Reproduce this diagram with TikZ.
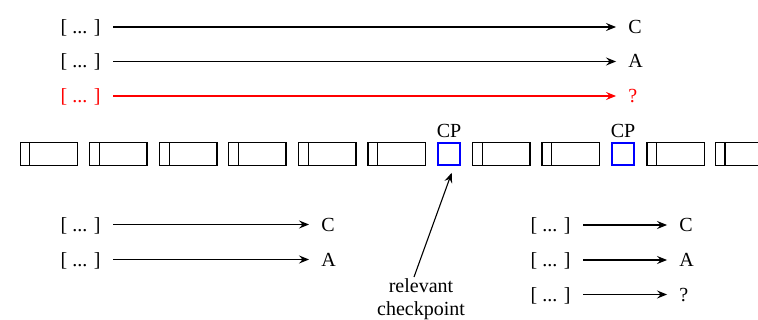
\documentclass[tikz,border=0pt]{standalone}
\usepackage{fontspec}
\setmainfont{Liberation Serif}
\usetikzlibrary{arrows.meta}
\begin{document}
\begin{tikzpicture}[x=0.5pt,y=-0.5pt,
  font=\fontsize{10}{12.5}\selectfont,
  lbl/.style={inner xsep=6pt, inner ysep=0pt, text height=7pt, text depth=0.5pt},
  hot/.style={red},
  arr/.style={-{Stealth[length=5pt,width=4pt,inset=1.8pt]}, line width=0.55pt},
  slot/.style={draw, line width=0.55pt, minimum width=28.7pt, minimum height=11.2pt, inner sep=0pt, outer sep=0pt},
  slotline/.style={line width=0.55pt},
  cpbox/.style={draw=blue, line width=1.1pt, minimum width=11.15pt, minimum height=10.7pt, inner sep=0pt},
  cplbl/.style={inner sep=0pt, text height=7pt, text depth=0.5pt}]
\useasboundingbox (0,0) rectangle (758,320);

% top rows
\node[lbl, anchor=east] (tl1) at (113,27) {[ ... ]};
\node[lbl, anchor=west] (tr1) at (616,27) {C};
\draw[arr] (tl1) -- (tr1);
\node[lbl, anchor=east] (tl2) at (113,61.5) {[ ... ]};
\node[lbl, anchor=west] (tr2) at (616,61.5) {A};
\draw[arr] (tl2) -- (tr2);
\node[lbl, hot, anchor=east] (tl3) at (113,96) {[ ... ]};
\node[lbl, hot, anchor=west] (tr3) at (616,96) {?};
\draw[arr, hot] (tl3) -- (tr3);

% slots
\begin{scope}
\clip (0,0) rectangle (758,320);
\foreach \n/\x in {1/49,2/118.3,3/188.3,4/257.3,5/327.3,6/396.7,7/501.3,8/570.7,9/675.7,10/744.2} {
  \node[slot] (s\n) at (\x,154) {};
  \draw[slotline] ([xshift=4.75pt]s\n.north west) -- ([xshift=4.75pt]s\n.south west);
}
\end{scope}

% checkpoints
\node[cpbox] (cp1) at (449,154) {};
\node[cpbox] (cp2) at (623,154) {};
\node[cplbl] (cpl1) at (449,131) {CP};
\node[cplbl] (cpl2) at (623,131) {CP};

% bottom left rows
\node[lbl, anchor=east] (bl1) at (113,224.5) {[ ... ]};
\node[lbl, anchor=west] (br1) at (309,224.5) {C};
\draw[arr] (bl1) -- (br1);
\node[lbl, anchor=east] (bl2) at (113,259.5) {[ ... ]};
\node[lbl, anchor=west] (br2) at (309,259.5) {A};
\draw[arr] (bl2) -- (br2);

% bottom right rows
\node[lbl, anchor=east] (rl1) at (583,225) {[ ... ]};
\node[lbl, anchor=west] (rr1) at (667,225) {C};
\draw[arr] (rl1) -- (rr1);
\node[lbl, anchor=east] (rl2) at (583,260) {[ ... ]};
\node[lbl, anchor=west] (rr2) at (667,260) {A};
\draw[arr] (rl2) -- (rr2);
\node[lbl, anchor=east] (rl3) at (583,294.5) {[ ... ]};
\node[lbl, anchor=west] (rr3) at (667,294.5) {?};
\draw[arr] (rl3) -- (rr3);

% relevant checkpoint
\node[align=center, inner sep=0pt, anchor=north, font=\fontsize{10}{11.8}\selectfont] (rc) at (421,278) {relevant\\checkpoint};
\draw[arr] ([xshift=-3.5pt,yshift=0.5pt]rc.north) -- ([xshift=1.35pt,yshift=-3.5pt]cp1.south);
\end{tikzpicture}
\end{document}
